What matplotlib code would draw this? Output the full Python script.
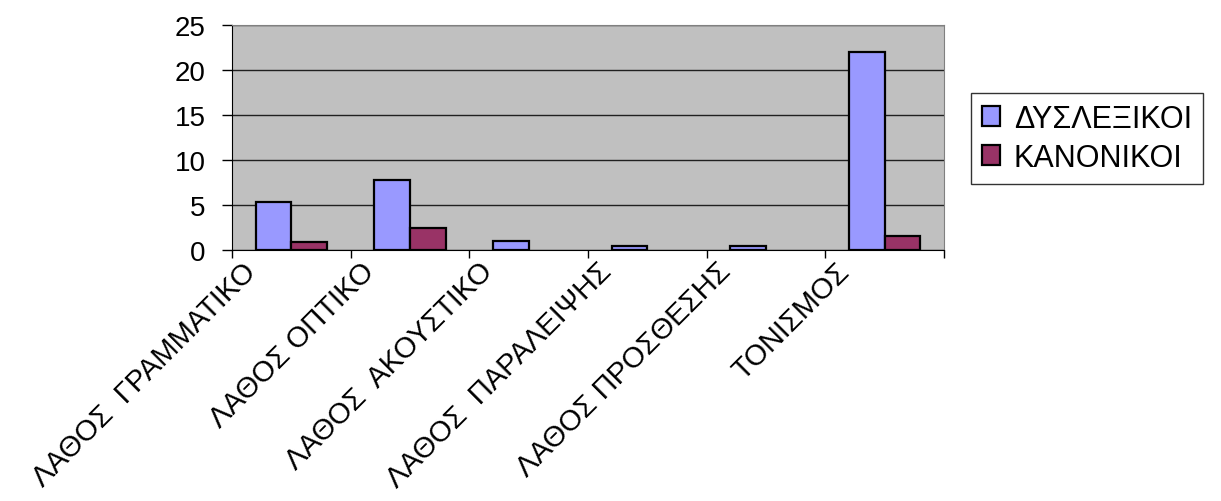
import matplotlib.pyplot as plt
import matplotlib.transforms as mtransforms
import numpy as np

plt.rcParams['font.family'] = ['Liberation Sans', 'DejaVu Sans']

# Κατηγορίες λαθών
categories = ['ΛΑΘΟΣ  ΓΡΑΜΜΑΤΙΚΟ', 'ΛΑΘΟΣ ΟΠΤΙΚΟ', 'ΛΑΘΟΣ  ΑΚΟΥΣΤΙΚΟ',
              'ΛΑΘΟΣ  ΠΑΡΑΛΕΙΨΗΣ', 'ΛΑΘΟΣ ΠΡΟΣΘΕΣΗΣ', 'ΤΟΝΙΣΜΟΣ']
dyslexic = [5.35, 7.8, 0.95, 0.45, 0.45, 22.0]
normal = [0.9, 2.45, 0, 0, 0, 1.55]
series_names = ['ΔΥΣΛΕΞΙΚΟΙ', 'ΚΑΝΟΝΙΚΟΙ']
yticks = [0, 5, 10, 15, 20, 25]

fig = plt.figure(figsize=(12.21, 5.02), dpi=100)
ax = fig.add_axes([232 / 1221, 1 - 251 / 502, (944 - 232) / 1221, (251 - 26) / 502])
ax.set_facecolor('#C0C0C0')

x = np.arange(len(categories))
w = 0.3
b1 = ax.bar(x - w / 2, dyslexic, w, color='#9999FF', edgecolor='black', linewidth=1.6,
            label=series_names[0], zorder=3)
b2 = ax.bar(x + w / 2, normal, w, color='#993366', edgecolor='black', linewidth=1.6,
            label=series_names[1], zorder=3)
# μηδενικές τιμές δεν σχεδιάζονται
for bars in (b1, b2):
    for p in bars:
        if p.get_height() == 0:
            p.set_visible(False)

ax.set_xlim(-0.5, len(categories) - 0.5)
ax.set_ylim(0, 25)
ax.set_yticks(yticks)
ax.yaxis.grid(True, color='#202020', linewidth=1, zorder=1)

# Υποδιαιρέσεις στα όρια των κατηγοριών
ax.set_xticks(np.arange(len(categories) + 1) - 0.5, minor=True)
ax.set_xticks(x)
ax.set_xticklabels(categories, rotation=45, ha='right', va='center',
                   rotation_mode='anchor', fontsize=21)
ax.tick_params(axis='x', which='major', length=0, pad=12)
ax.tick_params(axis='x', which='minor', length=6, width=1, direction='out')
ax.tick_params(axis='y', length=7, width=1, direction='out', labelsize=20, pad=12)

offset = mtransforms.ScaledTranslation(-40 / 100, 0, fig.dpi_scale_trans)
for lab in ax.get_xticklabels():
    lab.set_transform(lab.get_transform() + offset)

for side in ['top', 'right']:
    ax.spines[side].set_color('#808080')
for side in ['left', 'bottom']:
    ax.spines[side].set_color('black')

leg = fig.legend(loc='upper left', bbox_to_anchor=(971 / 1221, 1 - 94 / 502),
                 fontsize=22, frameon=True, fancybox=False, edgecolor='black',
                 handlelength=0.6, handleheight=0.6, handletextpad=0.45,
                 borderpad=0.35, labelspacing=0.3, borderaxespad=0)
leg.get_frame().set_linewidth(1)

fig.savefig('out.png', dpi=100)
